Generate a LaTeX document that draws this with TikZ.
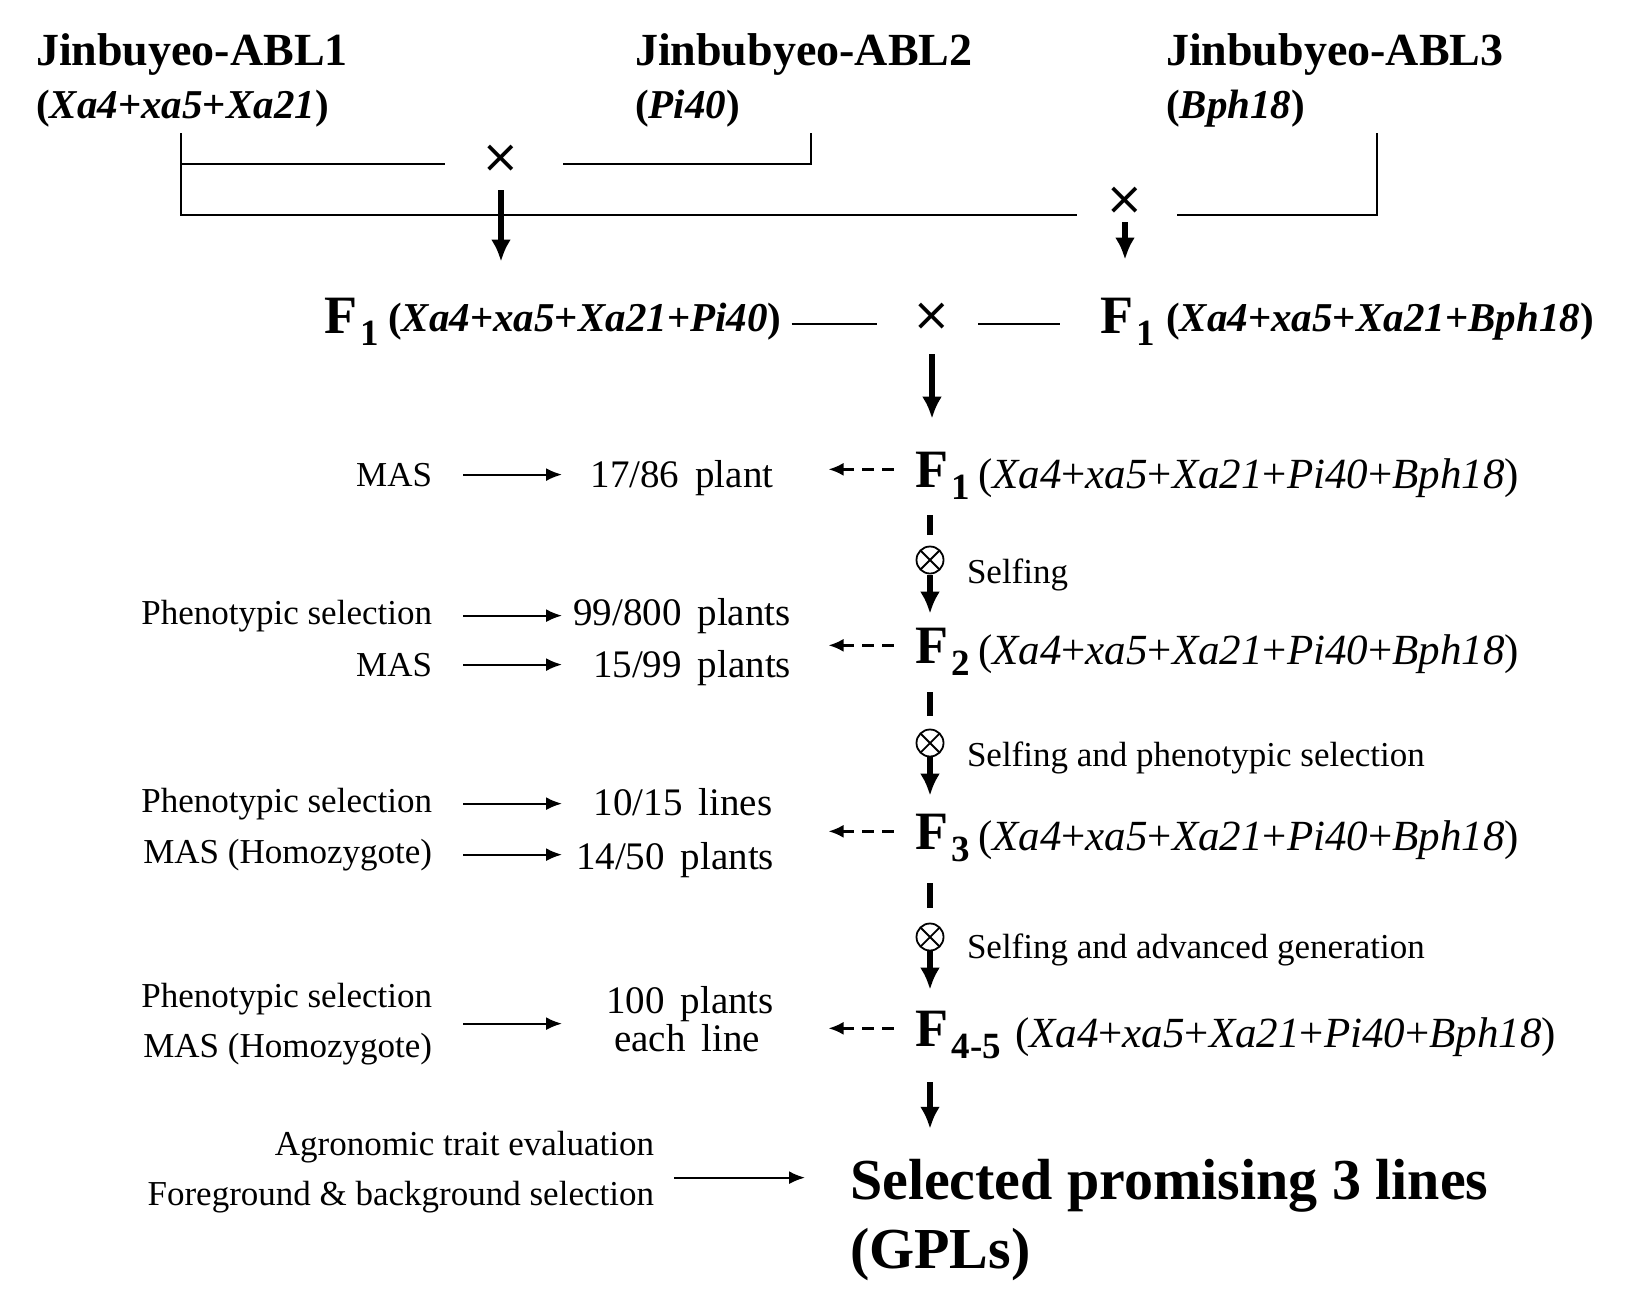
\documentclass[tikz,border=0pt]{standalone}
\usepackage{fontspec}
\setmainfont{Liberation Serif}
\newfontfamily\symfont{DejaVu Sans}
\usetikzlibrary{arrows.meta,calc}
\tikzset{%
    every node/.style={inner sep=0pt, outer sep=0pt},
    parent/.style={anchor=base west, font=\fontsize{46}{46}\selectfont\bfseries},
    pgenes/.style={anchor=base west, font=\fontsize{41}{41}\selectfont\bfseries},
    gen/.style={anchor=base, font=\fontsize{54}{54}\selectfont\bfseries},
    gsub/.style={anchor=base west, font=\fontsize{37}{37}\selectfont\bfseries},
    genes/.style={anchor=base west, font=\fontsize{43}{43}\selectfont},
    cross/.style={font=\fontsize{46}{46}\selectfont\symfont},
    selfed/.style={circle, draw, line width=1.8pt, minimum size=27pt,
        path picture={\draw[line width=1.8pt]
            ($(path picture bounding box.center)+(-9.5,-9.5)$) -- ++(19,19)
            ($(path picture bounding box.center)+(9.5,-9.5)$) -- ++(-19,19);}},
    how/.style={anchor=base east, font=\fontsize{35}{35}\selectfont},
    tally/.style={anchor=base, font=\fontsize{39}{39}\selectfont,
        execute at begin node={\spaceskip=16pt\relax}},
    note/.style={anchor=base west, font=\fontsize{35}{35}\selectfont},
    final/.style={anchor=base west, font=\fontsize{58}{58}\selectfont\bfseries},
    link/.style={line width=2pt},
    sel/.style={line width=2pt, -{Latex[length=16pt, width=13pt]}},
    down/.style={line width=6pt, -{Latex[length=22pt, width=20pt]}},
    stub/.style={line width=6pt},
    back/.style={line width=2.5pt, dash pattern=on 12pt off 8pt,
        -{Latex[length=15pt, width=13pt]}}
}

\begin{document}
\begin{tikzpicture}[x=1pt, y=-1pt]
	\fill[white] (0,0) rectangle (1632,1306);
	\node[parent] (abl1) at (36,66) {Jinbuyeo-ABL1};
	\node[pgenes] (abl1g) at (36,118) {(\textit{Xa4}+\textit{xa5}+\textit{Xa21})};
	\node[parent] (abl2) at (635,66) {Jinbubyeo-ABL2};
	\node[pgenes] (abl2g) at (635,118) {(\textit{Pi40})};
	\node[parent] (abl3) at (1166,66) {Jinbubyeo-ABL3};
	\node[pgenes] (abl3g) at (1166,118) {(\textit{Bph18})};
	\coordinate (d1) at (181,133);
	\coordinate (d2) at (811,133);
	\coordinate (d3) at (1377,133);
	\node[cross] (x1) at (501,159) {×};
	\node[cross] (x2) at (1125,201) {×};
	\coordinate (x1l) at (445,164);
	\coordinate (x1r) at (563,164);
	\coordinate (x2l) at (1077,215);
	\coordinate (x2r) at (1177,215);
	\draw[link] (d1) |- (x1l);
	\draw[link] (x1r) -| (d2);
	\draw[link] (d1) |- (x2l);
	\draw[link] (x2r) -| (d3);

	\node[gen] (f1a) at (341,333) {F};
	\node[gsub] (f1as) at ($(f1a.base east)+(3,12)$) {1};
	\node[pgenes] (f1ag) at (388,331) {(\textit{Xa4}+\textit{xa5}+\textit{Xa21}+\textit{Pi40})};
	\node[cross] (x3) at (932,317) {×};
	\node[gen] (f1b) at (1117,333) {F};
	\node[gsub] (f1bs) at ($(f1b.base east)+(3,12)$) {1};
	\node[pgenes] (f1bg) at (1166,331) {(\textit{Xa4}+\textit{xa5}+\textit{Xa21}+\textit{Bph18})};
	\coordinate (x3l) at (877,324);
	\coordinate (x3r) at (978,324);
	\draw[link] ($(f1ag.base east)+(10,-7)$) -- (x3l);
	\draw[link] (x3r) -- ($(f1b.base west)+(-41,-9)$);
	\draw[down, shorten <=31pt, shorten >=41pt] (x1.center) -- (x1 |- f1ag.north);
	\draw[down, shorten <=21pt, shorten >=43pt] (x2.center) -- (x2 |- f1bg.north);

	\node[gen] (f1) at (932,487) {F};
	\node[gsub] (f1s) at ($(f1.base east)+(3,12)$) {1};
	\node[genes] (f1g) at (978,488) {(\textit{Xa4}+\textit{xa5}+\textit{Xa21}+\textit{Pi40}+\textit{Bph18})};
	\node[gen] (f2) at (932,663) {F};
	\node[gsub] (f2s) at ($(f2.base east)+(3,12)$) {2};
	\node[genes] (f2g) at (978,664) {(\textit{Xa4}+\textit{xa5}+\textit{Xa21}+\textit{Pi40}+\textit{Bph18})};
	\node[gen] (f3) at (932,849) {F};
	\node[gsub] (f3s) at ($(f3.base east)+(3,12)$) {3};
	\node[genes] (f3g) at (978,850) {(\textit{Xa4}+\textit{xa5}+\textit{Xa21}+\textit{Pi40}+\textit{Bph18})};
	\node[gen] (f45) at (932,1046) {F};
	\node[gsub] (f45s) at ($(f45.base east)+(3,12)$) {4-5};
	\node[genes] (f45g) at (1015,1047) {(\textit{Xa4}+\textit{xa5}+\textit{Xa21}+\textit{Pi40}+\textit{Bph18})};
	\draw[down, shorten <=37pt, shorten >=33pt] (x3.center) -- (x3 |- f1.north);

	\node[selfed] (s1) at (930,560) {};
	\node[selfed] (s2) at (930,743) {};
	\node[selfed] (s3) at (930,937) {};
	\node[note] (n1) at (967,583) {Selfing};
	\node[note] (n2) at (967,766) {Selfing and phenotypic selection};
	\node[note] (n3) at (967,958) {Selfing and advanced generation};
	\draw[stub, shorten <=28pt, shorten >=25pt] (s1 |- f1.south) -- (s1.center);
	\draw[stub, shorten <=29pt, shorten >=27pt] (s2 |- f2.south) -- (s2.center);
	\draw[stub, shorten <=34pt, shorten >=29pt] (s3 |- f3.south) -- (s3.center);
	\draw[down, shorten <=15pt, shorten >=14pt] (s1.center) -- (s1 |- f2.north);
	\draw[down, shorten <=14pt, shorten >=18pt] (s2.center) -- (s2 |- f3.north);
	\draw[down, shorten <=13pt, shorten >=21pt] (s3.center) -- (s3 |- f45.north);

	\draw[back, shorten <=22pt] (f1.west) -- ++(-87,0);
	\draw[back, shorten <=22pt] (f2.west) -- ++(-87,0);
	\draw[back, shorten <=22pt] (f3.west) -- ++(-87,0);
	\draw[back, shorten <=22pt] (f45.west) -- ++(-87,0);

	\node[how] (m1) at (432,486) {MAS};
	\node[tally] (t1) at (682,487) {17/86 plant};
	\node[how] (p2) at (432,624) {Phenotypic selection};
	\node[tally] (t2a) at (682,625) {99/800 plants};
	\node[how] (m2) at (432,676) {MAS};
	\node[tally] (t2b) at (692,677) {15/99 plants};
	\node[how] (p3) at (432,812) {Phenotypic selection};
	\node[tally] (t3a) at (683,815) {10/15 lines};
	\node[how] (m3) at (432,863) {MAS (Homozygote)};
	\node[tally] (t3b) at (675,869) {14/50 plants};
	\node[how] (p4) at (432,1007) {Phenotypic selection};
	\node[how] (m4) at (432,1057) {MAS (Homozygote)};
	\node[tally] (t4a) at (690,1013) {100 plants};
	\node[tally] (t4b) at (687,1051) {each line};
	\draw[sel] ([xshift=31pt]m1.east) -- ++(99,0);
	\draw[sel] ([xshift=31pt]p2.east) -- ++(99,0);
	\draw[sel] ([xshift=31pt]m2.east) -- ++(99,0);
	\draw[sel] ([xshift=31pt]p3.east) -- ++(99,0);
	\draw[sel] ([xshift=31pt]m3.east) -- ++(99,0);
	\draw[sel] ($(p4.east)!0.5!(m4.east)+(31,0)$) -- ++(99,0);

	\node[how] (a5) at (654,1155) {Agronomic trait evaluation};
	\node[how] (b5) at (654,1205) {Foreground \& background selection};
	\node[final] (gpl) at (850,1199) {Selected promising 3 lines};
	\node[final] (gpl2) at (850,1268) {(GPLs)};
	\draw[sel] ($(a5.east)!0.5!(b5.east)+(20,6)$) -- ++(131,0);
	\draw[down, shorten <=36pt, shorten >=30pt] (s3 |- f45.south) -- (s3 |- gpl.north);
\end{tikzpicture}
\end{document}
